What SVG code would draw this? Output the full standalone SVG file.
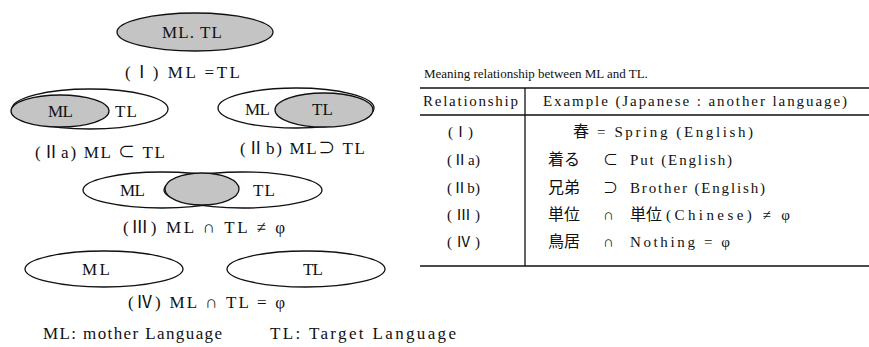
<svg xmlns="http://www.w3.org/2000/svg" width="869" height="347" viewBox="0 0 869 347">
<style>
text{font-family:"Liberation Serif","Noto Sans CJK JP",serif;font-size:15px;fill:#111}
.L{font-size:17px}
.t{font-size:13px}
.w{fill:#fff;stroke:#111;stroke-width:1.3}
.g{fill:#c4c4c4;stroke:#111;stroke-width:1.3}
.ln{stroke:#111;stroke-width:1.3;fill:none}
.j{font-family:"Noto Sans CJK JP",sans-serif;font-size:16px}
</style>
<rect width="869" height="347" fill="#fff"/>
<g id="n1">
<ellipse class="g" cx="195" cy="32" rx="78" ry="19"/>
<text class="L" x="162" y="38" textLength="60" lengthAdjust="spacing">ML. TL</text>
<text class="L" x="125" y="78" textLength="115" lengthAdjust="spacing">(Ⅰ) ML  =TL</text>
</g>
<g id="n2a">
<ellipse class="w" cx="90" cy="109" rx="78" ry="20"/>
<ellipse class="g" cx="60" cy="111" rx="49" ry="16"/>
<text class="L" x="48" y="117" textLength="25" lengthAdjust="spacing">ML</text>
<text class="L" x="115" y="117" textLength="22" lengthAdjust="spacing">TL</text>
<text class="L" x="35" y="158" textLength="130" lengthAdjust="spacing">(Ⅱa) ML ⊂ TL</text>
</g>
<g id="n2b">
<ellipse class="w" cx="296" cy="108" rx="78" ry="20"/>
<ellipse class="g" cx="324" cy="110" rx="49" ry="17"/>
<text class="L" x="245" y="115" textLength="25" lengthAdjust="spacing">ML</text>
<text class="L" x="312" y="115" textLength="21" lengthAdjust="spacing">TL</text>
<text class="L" x="240" y="154" textLength="125" lengthAdjust="spacing">(Ⅱb) ML⊃ TL</text>
</g>
<g id="n3">
<ellipse class="w" cx="162" cy="190" rx="79" ry="18"/>
<ellipse class="w" cx="243" cy="190" rx="79" ry="18"/>
<ellipse class="g" cx="202" cy="189" rx="37" ry="16"/>
<text class="L" x="120" y="196" textLength="25" lengthAdjust="spacing">ML</text>
<text class="L" x="253" y="196" textLength="22" lengthAdjust="spacing">TL</text>
<text class="L" x="123" y="233" textLength="162" lengthAdjust="spacing">(Ⅲ) ML ∩ TL ≠ φ</text>
</g>
<g id="n4">
<ellipse class="w" cx="104" cy="269" rx="79" ry="18"/>
<ellipse class="w" cx="306" cy="269" rx="79" ry="18"/>
<text class="L" x="82" y="275" textLength="28" lengthAdjust="spacing">ML</text>
<text class="L" x="303" y="275" textLength="20" lengthAdjust="spacing">TL</text>
<text class="L" x="128" y="308" textLength="157" lengthAdjust="spacing">(Ⅳ) ML ∩ TL = φ</text>
</g>
<g id="legend">
<text class="L" x="43" y="339" textLength="179" lengthAdjust="spacing">ML: mother Language</text>
<text class="L" x="270" y="339" textLength="186" lengthAdjust="spacing">TL: Target Language</text>
</g>
<g id="table">
<text class="t" x="424" y="78">Meaning relationship between ML and TL.</text>
<line class="ln" x1="420" y1="88" x2="869" y2="88"/>
<line class="ln" x1="420" y1="115" x2="869" y2="115"/>
<line class="ln" x1="420" y1="266" x2="869" y2="266"/>
<line class="ln" x1="525" y1="88" x2="525" y2="266"/>
<text x="423" y="106" textLength="95" lengthAdjust="spacing">Relationship</text>
<text x="543" y="106" textLength="304" lengthAdjust="spacing">Example (Japanese : another language)</text>
<text x="448" y="137">(Ⅰ)</text>
<text x="447" y="165" textLength="33" lengthAdjust="spacing">(Ⅱa)</text>
<text x="447" y="193" textLength="33" lengthAdjust="spacing">(Ⅱb)</text>
<text x="447" y="220" textLength="33" lengthAdjust="spacing">(Ⅲ)</text>
<text x="447" y="247" textLength="33" lengthAdjust="spacing">(Ⅳ)</text>
<text class="j" x="573" y="137">春</text>
<text x="597" y="137" textLength="156" lengthAdjust="spacing">= Spring (English)</text>
<text class="j" x="548" y="165">着る</text>
<text x="603" y="165">⊂</text>
<text x="630" y="165" textLength="102" lengthAdjust="spacing">Put (English)</text>
<text class="j" x="548" y="193">兄弟</text>
<text x="603" y="193">⊃</text>
<text x="630" y="193" textLength="135" lengthAdjust="spacing">Brother (English)</text>
<text class="j" x="548" y="220">単位</text>
<text x="603" y="220">∩</text>
<text class="j" x="630" y="220">単位</text>
<text x="666" y="220" textLength="124" lengthAdjust="spacing">(Chinese) ≠ φ</text>
<text class="j" x="548" y="247">鳥居</text>
<text x="603" y="247">∩</text>
<text x="630" y="247" textLength="100" lengthAdjust="spacing">Nothing = φ</text>
</g>
</svg>
